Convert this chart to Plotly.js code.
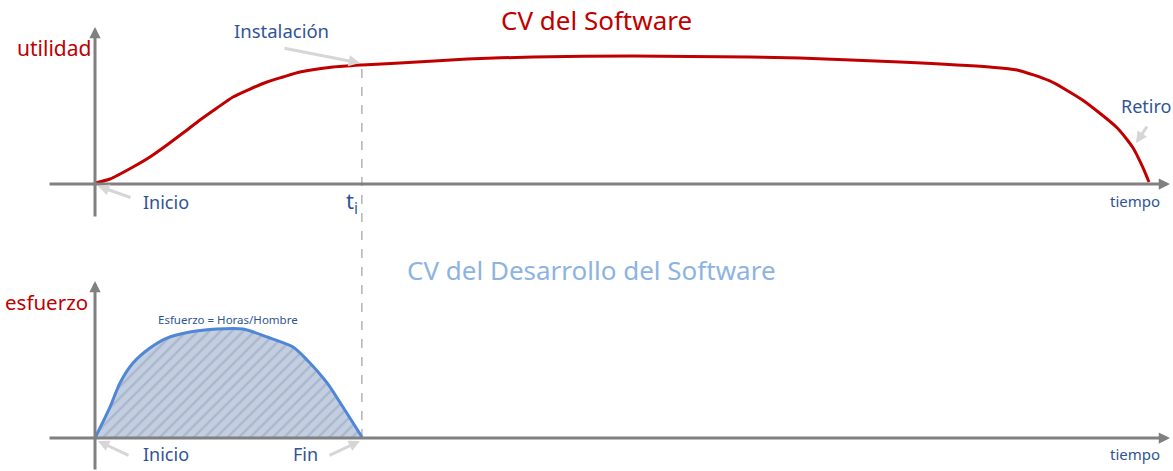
<!DOCTYPE html>
<html><head><meta charset="utf-8">
<script src="https://cdn.plot.ly/plotly-3.0.1.min.js"></script>
<style>html,body{margin:0;padding:0;background:#fff}#chart{width:1173px;height:471px}</style>
</head><body><div id="chart"></div>
<script>
// ---- Data (time units: 0 = inicio, 100 = retiro) ----
const softwareT = [0, 1.42, 3.6, 5.21, 6.82, 8.34, 9.95, 11.56, 13.08, 14.69, 16.3, 17.82, 19.43, 22.56, 25.3, 28.9, 35.3, 41.5, 51, 62.1, 66.8, 76.3, 84.8, 87.4, 90.5, 93.6, 96.9, 98.4, 99.3, 99.9];
const utilidad  = [0.8, 3.9, 13.3, 21.1, 30.5, 39.8, 50, 59.4, 68, 74.2, 79.7, 83.6, 87.5, 91.4, 93, 94.5, 97.7, 99.2, 100, 99.2, 98.4, 95.3, 91.4, 89.1, 80.5, 65.6, 43.75, 28.1, 13.3, 1.6];
const desarrolloT = [0, 1.42, 2.37, 3.6, 5.21, 6.82, 9.0, 11.56, 14.03, 16.3, 18.77, 20.1, 22.0, 23.5, 25.3];
const esfuerzo    = [0, 28.4, 50.5, 68.8, 82.6, 91.7, 97.2, 100, 100, 92.7, 83.5, 71.6, 50.5, 28.4, 0.9];
const instalacion = 25.3;

const W = 1173, H = 471;
const px = x => x / W;
const py = y => 1 - y / H;
const FONT = 'Noto Sans, sans-serif';
const RED = '#c00000', BLUE = '#2f5496', LIGHTBLUE = '#8db3e2', AXIS = '#808080', POINTER = '#d6d6d6';

const traces = [
  {x: softwareT, y: utilidad, xaxis: 'x', yaxis: 'y', mode: 'lines',
   line: {color: RED, width: 3, shape: 'spline', smoothing: 0.6}, hoverinfo: 'skip'},
  {x: desarrolloT, y: esfuerzo, xaxis: 'x', yaxis: 'y2', mode: 'lines', fill: 'tozeroy',
   fillcolor: '#bfcade',
   fillpattern: {shape: '/', bgcolor: '#c3cee0', fgcolor: '#aab8ce', size: 8, solidity: 0.3},
   line: {color: '#4f86d6', width: 3, shape: 'spline', smoothing: 0.7}, hoverinfo: 'skip'}
];

function axisArrow(hx, hy, ax, ay) {
  return {xref: 'paper', yref: 'paper', x: px(hx), y: py(hy), ax: ax, ay: ay, text: '',
    showarrow: true, arrowhead: 2, arrowsize: 0.75, arrowwidth: 3, arrowcolor: AXIS};
}
function pointer(hx, hy, ax, ay) {
  return {xref: 'paper', yref: 'paper', x: px(hx), y: py(hy), ax: ax, ay: ay, text: '',
    showarrow: true, arrowhead: 2, arrowsize: 0.75, arrowwidth: 3, arrowcolor: POINTER};
}
function label(text, x, y, color, size, xanchor) {
  return {xref: 'paper', yref: 'paper', x: px(x), y: py(y), text: text, showarrow: false,
    xanchor: xanchor || 'center', yanchor: 'middle', font: {family: FONT, size: size, color: color}};
}

const annotations = [
  axisArrow(1170, 184, -1122, 0),
  axisArrow(95, 27, 0, 191),
  axisArrow(1170, 438, -1122, 0),
  axisArrow(95, 281, 0, 190),
  pointer(98, 186, 34, 12),
  pointer(360, 63, -77, -15),
  pointer(1136, 143, 12, -18),
  pointer(98, 441, 32, 15),
  pointer(360, 441, -32, 15),
  label('CV del Software', 596, 20, RED, 26),
  label('utilidad', 54, 48, RED, 21),
  label('Instalación', 281, 31, BLUE, 18.5),
  label('Inicio', 166, 202, BLUE, 18),
  label('t<sub>i</sub>', 352, 202, BLUE, 22),
  label('tiempo', 1135, 201, BLUE, 15),
  label('Retiro', 1146, 106, BLUE, 18),
  label('CV del Desarrollo del Software', 591, 270, LIGHTBLUE, 26),
  label('esfuerzo', 46, 302, RED, 20.5),
  label('Esfuerzo = Horas/Hombre', 228, 319, BLUE, 11.5),
  label('Inicio', 166, 454, BLUE, 18),
  label('Fin', 305, 454, BLUE, 18),
  label('tiempo', 1135, 454, BLUE, 15)
];

const shapes = [
  {type: 'line', xref: 'x', yref: 'paper', x0: instalacion, x1: instalacion, y0: py(438), y1: py(63),
   line: {color: '#8c8c8c', width: 1, dash: 'dash'}, layer: 'below'}
];

const hidden = {visible: false, showgrid: false, zeroline: false, fixedrange: true};
const layout = {
  width: W, height: H, margin: {l: 0, r: 0, t: 0, b: 0},
  paper_bgcolor: '#fff', plot_bgcolor: 'rgba(0,0,0,0)', showlegend: false,
  xaxis: Object.assign({range: [-95 / 10.55, (W - 95) / 10.55]}, hidden),
  yaxis: Object.assign({domain: [1 - 235 / H, 1], range: [-(235 - 184) / 1.28, 184 / 1.28]}, hidden),
  yaxis2: Object.assign({domain: [0, 1 - 235 / H], range: [-(H - 438) / 1.09, (438 - 235) / 1.09]}, hidden),
  annotations: annotations, shapes: shapes
};
Plotly.newPlot('chart', traces, layout, {displayModeBar: false, staticPlot: true});
</script></body></html>
